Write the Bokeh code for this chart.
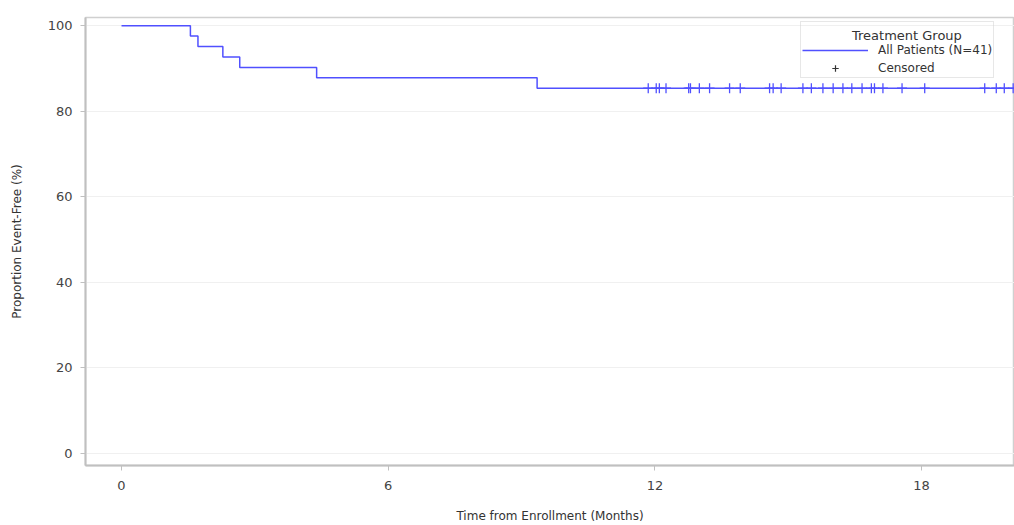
from bokeh.plotting import figure
from bokeh.models import Range1d, Legend, LegendItem, FixedTicker, Label
from bokeh.embed import file_html
from bokeh.resources import INLINE

# Kaplan-Meier step data (months, % event-free)
event_times = [0.0, 1.55, 1.72, 2.28, 2.66, 4.39, 9.35, 20.4]
event_surv = [100.0, 97.56, 95.12, 92.68, 90.24, 87.80, 85.37, 85.37]

# Censored observation times (months) and their survival level
censor_times = [11.85, 12.03, 12.10, 12.25, 12.76, 12.80, 13.00, 13.23, 13.68, 13.92,
                14.58, 14.66, 14.84, 15.33, 15.52, 15.78, 16.01, 16.23, 16.43, 16.66,
                16.87, 16.94, 17.13, 17.56, 18.07, 19.42, 19.68, 19.86, 20.06]
censor_surv = [85.37] * len(censor_times)

x_ticks = [0, 6, 12, 18]
y_ticks = [0, 20, 40, 60, 80, 100]

legend_title = "Treatment Group"
series_label = "All Patients (N=41)"
censor_label = "Censored"

FONT = "DejaVu Sans"
LINE_COLOR = "#5050ff"

p = figure(width=1014, height=525, output_backend="svg", toolbar_location=None,
           x_range=Range1d(-0.81, 20.09), y_range=Range1d(-2.8, 101.9),
           min_border_left=85, min_border_right=0, min_border_top=17, min_border_bottom=58)

step_r = p.step(event_times, event_surv, mode="after", line_color=LINE_COLOR, line_width=1.5)
cens_r = p.scatter(censor_times, censor_surv, marker="cross", size=10, line_color=LINE_COLOR, line_width=1.3)
# legend proxy for the censor symbol (dark grey in the legend, kept outside the visible range)
legend_cross = p.scatter(censor_times[:1], [-50], marker="cross", size=10, line_color="#333333", line_width=1.2)

p.xaxis.ticker = FixedTicker(ticks=x_ticks)
p.yaxis.ticker = FixedTicker(ticks=y_ticks)
p.xaxis.axis_label = "Time from Enrollment (Months)"
p.yaxis.axis_label = "Proportion Event-Free (%)"
for ax in (p.xaxis, p.yaxis):
    ax.axis_label_text_font = FONT
    ax.axis_label_text_font_size = "12px"
    ax.axis_label_text_font_style = "normal"
    ax.axis_label_text_color = "#333333"
    ax.major_label_text_font = FONT
    ax.major_label_text_font_size = "13px"
    ax.major_label_text_color = "#444444"
    ax.axis_line_color = "#c0c0c0"
    ax.axis_line_width = 2
    ax.major_tick_line_color = "#c0c0c0"
    ax.major_tick_in = 0
    ax.major_tick_out = 5
    ax.minor_tick_line_color = None
p.xaxis.major_label_standoff = 10
p.yaxis.major_label_standoff = 8
p.xaxis.axis_label_standoff = 16
p.yaxis.axis_label_standoff = 21

p.xgrid.grid_line_color = None
p.ygrid.grid_line_color = "#f0f0f0"
p.outline_line_color = "#d0d0d0"
p.outline_line_width = 1.5
p.background_fill_color = "white"
p.border_fill_color = "white"

legend = Legend(items=[LegendItem(label=series_label, renderers=[step_r]),
                       LegendItem(label=censor_label, renderers=[legend_cross])],
                location=(715, 387), title=" ")
legend.title_text_font = FONT
legend.title_text_font_size = "13px"
legend.title_text_font_style = "normal"
legend.title_standoff = 4
legend.label_text_font = FONT
legend.label_text_font_size = "12px"
legend.label_text_color = "#333333"
legend.glyph_width = 66
legend.glyph_height = 16
legend.label_height = 16
legend.label_standoff = 10
legend.spacing = 2
legend.padding = 1
legend.margin = 0
legend.border_line_color = "#d0d0d0"
legend.background_fill_alpha = 0.0
p.add_layout(legend)

# centred legend title, placed over the (blank) title row of the legend box
title_lbl = Label(x=17.67, y=97.7, text=legend_title,
                  text_align="center", text_baseline="middle", text_font=FONT,
                  text_font_size="13px", text_color="#333333", level="overlay")
p.add_layout(title_lbl)

open("out.html", "w").write(file_html(p, INLINE))
